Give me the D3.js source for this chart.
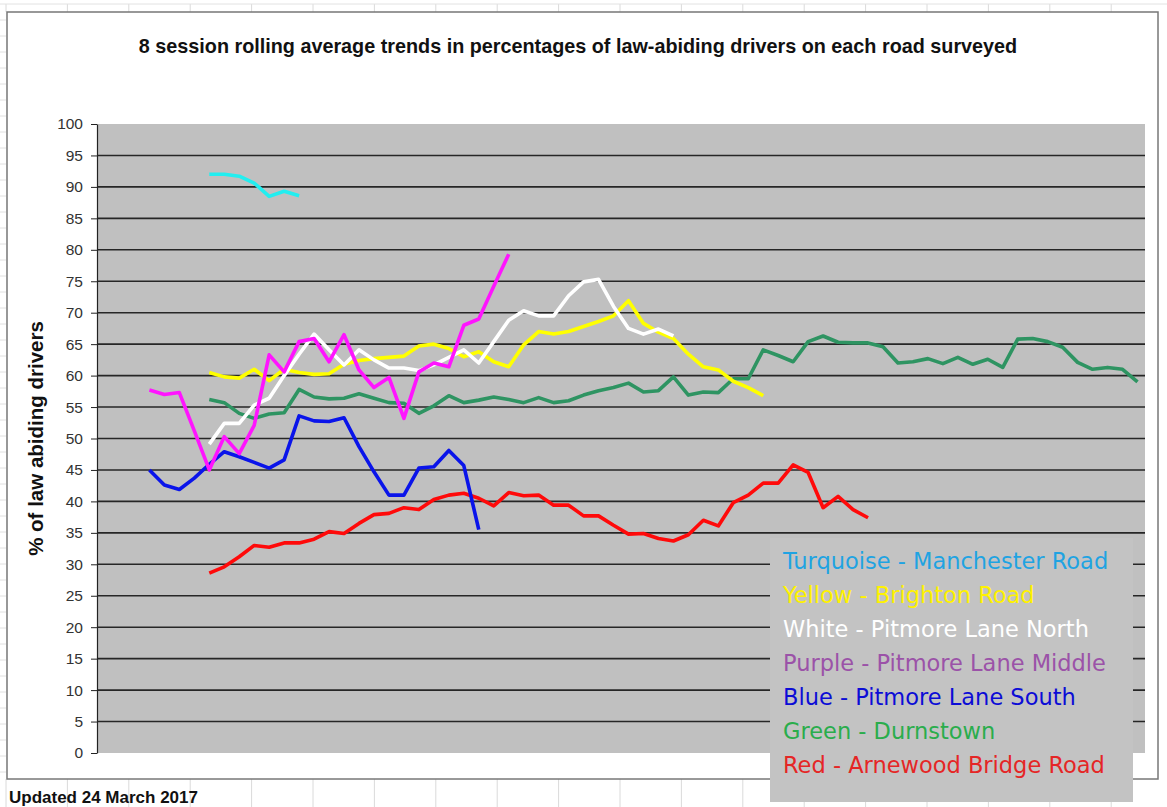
<!DOCTYPE html>
<html lang="en">
<head>
  <meta charset="UTF-8">
  <title>Law-abiding drivers - rolling averages</title>
  <script src="https://d3js.org/d3.v7.min.js"></script>
  <style>
    body {
      margin: 0;
      background-color: white;
      overflow: hidden;
    }

    svg {
      display: block;
      font-family: "Liberation Sans", Arial, sans-serif;
    }

    .title {
      font-size: 19.8px;
      font-weight: bold;
      fill: #111;
    }

    .y-label {
      font-size: 20.5px;
      font-weight: bold;
      fill: #111;
    }

    .y-axis text {
      font-size: 15.5px;
      fill: #333;
    }

    .legend-text {
      font-family: "Comic Sans MS", "DejaVu Sans", sans-serif;
      font-size: 22.5px;
    }

    .updated {
      font-size: 17px;
      font-weight: bold;
      fill: #111;
    }
  </style>
</head>
<body>

<script>
  // 70 survey sessions on the (unlabelled) horizontal axis
  const sessions = d3.range(1, 71);
  const yTicks = d3.range(0, 101, 5);

  const titleText = "8 session rolling average trends in percentages of law-abiding drivers on each road surveyed";
  const yLabelText = "% of law abiding drivers";
  const updatedText = "Updated 24 March 2017";

  // each road: first session it appears in, then its rolling averages
  const manchesterStart = 8;
  const manchester = [92.0, 92.0, 91.7, 90.6, 88.5, 89.3, 88.6];

  const brightonStart = 8;
  const brighton = [60.5, 59.8, 59.6, 61.0, 59.2, 61.0, 60.5, 60.2, 60.3, 61.8,
    62.4, 62.7, 62.9, 63.1, 64.7, 65.0, 64.3, 63.0, 63.8, 62.2,
    61.4, 64.9, 67.0, 66.6, 67.0, 67.8, 68.6, 69.5, 71.9, 68.3,
    66.9, 65.9, 63.4, 61.4, 60.9, 59.1, 58.1, 56.8];

  const pitmoreNorthStart = 8;
  const pitmoreNorth = [49.1, 52.4, 52.4, 55.3, 56.4, 60.0, 63.4, 66.6, 64.1, 61.7,
    64.1, 62.5, 61.2, 61.2, 60.8, 61.7, 62.9, 64.1, 62.0, 65.4,
    68.8, 70.3, 69.5, 69.5, 72.7, 74.9, 75.3, 71.0, 67.5, 66.6,
    67.4, 66.3];

  const pitmoreMiddleStart = 4;
  const pitmoreMiddle = [57.7, 57.0, 57.3, 51.2, 45.0, 50.3, 47.6, 52.1, 63.3, 60.6,
    65.4, 65.9, 62.2, 66.5, 60.9, 58.1, 59.7, 53.2, 60.6, 62.0,
    61.4, 68.0, 69.0, 74.2, 79.3];

  const pitmoreSouthStart = 4;
  const pitmoreSouth = [45.0, 42.6, 41.9, 43.7, 45.9, 47.9, 47.1, 46.2, 45.3, 46.6,
    53.6, 52.8, 52.7, 53.3, 48.7, 44.7, 41.0, 41.0, 45.3, 45.5,
    48.1, 45.7, 35.5];

  const durnstownStart = 8;
  const durnstown = [56.2, 55.7, 54.0, 53.2, 53.9, 54.1, 57.8, 56.6, 56.3, 56.4,
    57.1, 56.4, 55.7, 55.6, 54.0, 55.2, 56.8, 55.7, 56.1, 56.6,
    56.2, 55.7, 56.5, 55.7, 56.0, 56.9, 57.6, 58.1, 58.8, 57.4,
    57.6, 59.8, 56.9, 57.4, 57.3, 59.5, 59.5, 64.1, 63.2, 62.2,
    65.4, 66.3, 65.3, 65.2, 65.2, 64.6, 62.0, 62.2, 62.7, 61.9,
    62.9, 61.8, 62.6, 61.3, 65.8, 65.9, 65.4, 64.5, 62.1, 61.0,
    61.3, 61.0, 59.0];

  const arnewoodStart = 8;
  const arnewood = [28.6, 29.6, 31.2, 33.0, 32.7, 33.4, 33.4, 34.0, 35.2, 34.9,
    36.5, 37.9, 38.1, 39.0, 38.7, 40.3, 41.0, 41.3, 40.5, 39.3,
    41.4, 40.9, 41.0, 39.4, 39.4, 37.7, 37.7, 36.2, 34.8, 34.9,
    34.1, 33.7, 34.7, 37.0, 36.1, 39.8, 41.0, 42.9, 42.9, 45.8,
    44.6, 39.0, 40.8, 38.7, 37.4];

  const legendLabels = [
    "Turquoise - Manchester Road",
    "Yellow - Brighton Road",
    "White - Pitmore Lane North",
    "Purple - Pitmore Lane Middle",
    "Blue - Pitmore Lane South",
    "Green - Durnstown",
    "Red - Arnewood Bridge Road"
  ];
  const legendColors = ["#1fa3e2", "#fff200", "#ffffff", "#9b52a8", "#0c0cd6", "#2aad4c", "#e52626"];

  // drawn back to front
  const series = [
    { start: durnstownStart, values: durnstown, color: "#2e9462" },
    { start: arnewoodStart, values: arnewood, color: "#ff0a0a" },
    { start: pitmoreSouthStart, values: pitmoreSouth, color: "#0a14ea" },
    { start: brightonStart, values: brighton, color: "#ffff00" },
    { start: pitmoreNorthStart, values: pitmoreNorth, color: "#ffffff" },
    { start: pitmoreMiddleStart, values: pitmoreMiddle, color: "#ff14ff" },
    { start: manchesterStart, values: manchester, color: "#22eef0" }
  ];

  const width = 1167;
  const height = 807;
  const plot = { left: 97, right: 1145, top: 124, bottom: 753 };

  const svg = d3.select("body").append("svg")
    .attr("width", width)
    .attr("height", height);

  // spreadsheet cells showing around the pasted chart
  const sheetCols = d3.range(6, width, 61.4);
  svg.selectAll(".col-top")
    .data(sheetCols)
    .enter().append("line")
    .attr("x1", d => d).attr("x2", d => d)
    .attr("y1", 4).attr("y2", 12)
    .attr("stroke", "#dadada");
  svg.selectAll(".col-bottom")
    .data(sheetCols)
    .enter().append("line")
    .attr("x1", d => d).attr("x2", d => d)
    .attr("y1", 779).attr("y2", height)
    .attr("stroke", "#dadada");
  svg.append("line")
    .attr("x1", 0).attr("x2", width)
    .attr("y1", 4).attr("y2", 4)
    .attr("stroke", "#e2e2e2");
  svg.selectAll(".row-left")
    .data(d3.range(20, 779, 16))
    .enter().append("line")
    .attr("x1", 0).attr("x2", 6)
    .attr("y1", d => d).attr("y2", d => d)
    .attr("stroke", "#e0e0e0");

  // chart frame
  svg.append("rect")
    .attr("x", 7).attr("y", 12)
    .attr("width", 1151).attr("height", 767)
    .attr("fill", "white")
    .attr("stroke", "#777")
    .attr("stroke-width", 1.5);

  const x = d3.scalePoint()
    .domain(sessions)
    .range([plot.left, plot.right])
    .padding(0.5);

  const y = d3.scaleLinear()
    .domain([0, 100])
    .range([plot.bottom, plot.top]);

  svg.append("rect")
    .attr("x", plot.left).attr("y", plot.top)
    .attr("width", plot.right - plot.left)
    .attr("height", plot.bottom - plot.top)
    .attr("fill", "#c0c0c0");

  svg.append("g")
    .selectAll("line")
    .data(yTicks.filter(t => t > 0 && t < 100))
    .enter().append("line")
    .attr("x1", plot.left).attr("x2", plot.right)
    .attr("y1", d => y(d)).attr("y2", d => y(d))
    .attr("stroke", "#262626")
    .attr("stroke-width", 1.6);

  const yAxis = svg.append("g")
    .attr("class", "y-axis")
    .attr("transform", `translate(${plot.left},0)`)
    .call(d3.axisLeft(y).tickValues(yTicks).tickSize(6).tickPadding(8).tickSizeOuter(0));
  yAxis.select(".domain").attr("stroke", "#222").attr("stroke-width", 1.2);
  yAxis.selectAll(".tick line").attr("stroke", "#222");
  yAxis.selectAll("text").attr("font-family", "Liberation Sans, Arial, sans-serif");

  series.forEach(s => {
    const path = d3.line()
      .x((d, k) => x(s.start + k))
      .y(d => y(d));
    svg.append("path")
      .datum(s.values)
      .attr("d", path)
      .attr("fill", "none")
      .attr("stroke", s.color)
      .attr("stroke-width", 3.6)
      .attr("stroke-linejoin", "round");
  });

  svg.append("text")
    .attr("class", "title")
    .attr("x", 578).attr("y", 53)
    .attr("text-anchor", "middle")
    .text(titleText);

  svg.append("text")
    .attr("class", "y-label")
    .attr("transform", `translate(43,${(plot.top + plot.bottom) / 2}) rotate(-90)`)
    .attr("text-anchor", "middle")
    .text(yLabelText);

  // legend box pasted over the lower right corner
  svg.append("rect")
    .attr("x", 770).attr("y", 538)
    .attr("width", 363).attr("height", 264)
    .attr("fill", "#c3c3c3");

  svg.append("g")
    .selectAll("text")
    .data(legendLabels)
    .enter().append("text")
    .attr("class", "legend-text")
    .attr("x", 783)
    .attr("y", (d, i) => 569 + i * 34)
    .attr("fill", (d, i) => legendColors[i])
    .text(d => d);

  svg.append("text")
    .attr("class", "updated")
    .attr("x", 9).attr("y", 803)
    .text(updatedText);
</script>

</body>
</html>
